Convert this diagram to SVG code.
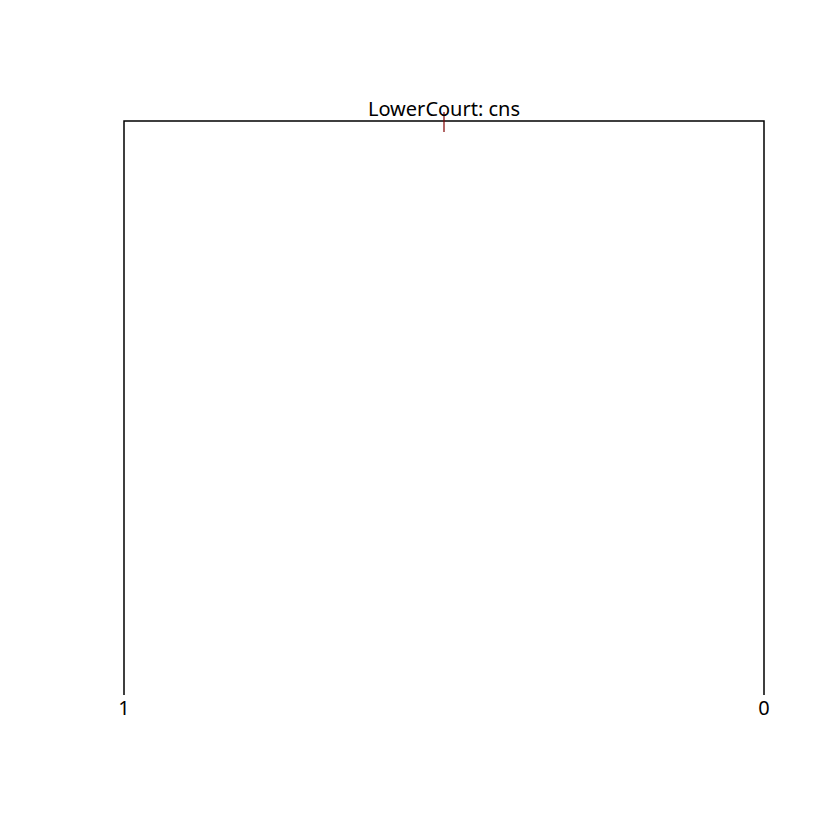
<svg xmlns="http://www.w3.org/2000/svg" width="840" height="840" viewBox="0 0 840 840">
<style>
text{font-family:"Noto Sans","DejaVu Sans",sans-serif;font-size:20px;fill:#000;text-anchor:middle}
.e{fill:none;stroke:#000;stroke-width:1.5}
</style>
<rect width="840" height="840" fill="#fff"/>
<g id="edges">
<path class="e" d="M124,695 V121 H764 V695"/>
<line x1="444" y1="112" x2="444" y2="132" stroke="#800000" stroke-width="1.2"/>
</g>
<g id="root"><text x="444" y="116">LowerCourt: cns</text></g>
<g id="leaf1"><text x="124" y="715">1</text></g>
<g id="leaf0"><text x="764" y="715">0</text></g>
</svg>
